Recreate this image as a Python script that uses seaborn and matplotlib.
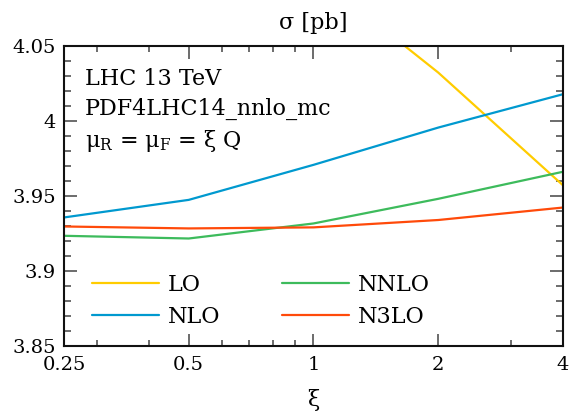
import numpy as np
import pandas as pd
import matplotlib
matplotlib.use("Agg")
import matplotlib.pyplot as plt
import matplotlib.ticker as mticker
import seaborn as sns

# ------------------------------------------------------------
# Data
# ------------------------------------------------------------
xi = [0.25, 0.5, 1, 2, 4]
lo = [4.250, 4.170, 4.098, 4.032, 3.957]
nlo = [3.9356, 3.9473, 3.9706, 3.9954, 4.0176]
nnlo = [3.9234, 3.9216, 3.9316, 3.9480, 3.9660]
n3lo = [3.9296, 3.9283, 3.9290, 3.9339, 3.9422]

orders = ["LO", "NLO", "NNLO", "N3LO"]
colors = {"LO": "#FFCC00", "NLO": "#0099CF", "NNLO": "#3DBB5C", "N3LO": "#FF4A0A"}

x_major = [0.25, 0.5, 1, 2, 4]
x_minor = [0.3, 0.4, 0.6, 0.7, 0.8, 0.9, 3]

df = pd.DataFrame({
    "xi": xi * 4,
    "sigma": lo + nlo + nnlo + n3lo,
    "order": [o for o in orders for _ in xi],
})

# ------------------------------------------------------------
# Style
# ------------------------------------------------------------
sns.set_style("ticks")
plt.rcParams["font.family"] = ["DejaVu Serif"]
plt.rcParams["mathtext.fontset"] = "dejavuserif"
plt.rcParams["text.color"] = "black"
plt.rcParams["axes.labelcolor"] = "black"

fig, ax = plt.subplots(figsize=(5.84, 4.16), dpi=100)
fig.subplots_adjust(left=0.1096, right=0.964, bottom=0.168, top=0.8906)

sns.lineplot(
    data=df, x="xi", y="sigma", hue="order", hue_order=orders,
    palette=colors, linewidth=1.6, estimator=None, sort=False, ax=ax,
)

ax.set_xscale("log")
ax.set_xlim(0.25, 4)
ax.set_ylim(3.85, 4.05)

ax.xaxis.set_major_locator(mticker.FixedLocator(x_major))
ax.xaxis.set_minor_locator(mticker.FixedLocator(x_minor))
ax.xaxis.set_major_formatter(mticker.FuncFormatter(lambda v, p: f"{v:g}"))
ax.xaxis.set_minor_formatter(mticker.NullFormatter())
ax.yaxis.set_major_locator(mticker.MultipleLocator(0.05))
ax.yaxis.set_minor_locator(mticker.MultipleLocator(0.01))
ax.yaxis.set_major_formatter(mticker.FuncFormatter(lambda v, p: f"{v:g}"))

ax.tick_params(which="both", direction="in", top=True, right=True,
               color="#444444", labelcolor="black", labelsize=14)
ax.tick_params(axis="y", which="major", length=9.5, width=1.1, pad=6)
ax.tick_params(axis="y", which="minor", length=5, width=1.1)
ax.tick_params(axis="x", which="major", length=9, width=1.1, pad=7)
ax.tick_params(axis="x", which="minor", length=4.5, width=1.1)

for spine in ax.spines.values():
    spine.set_linewidth(1.5)
    spine.set_color("#111111")

ax.set_title("σ [pb]", fontsize=16, pad=12)
ax.set_xlabel("ξ", fontsize=16, labelpad=11)
ax.set_ylabel("")

# Annotation
ax.text(0.042, 0.868, "LHC 13 TeV", transform=ax.transAxes, fontsize=16)
ax.text(0.042, 0.768, "PDF4LHC14_nnlo_mc", transform=ax.transAxes, fontsize=16)
ax.text(0.042, 0.663, r"μ$_\mathregular{R}$ = μ$_\mathregular{F}$ = ξ Q",
        transform=ax.transAxes, fontsize=16)

sns.move_legend(
    ax, "lower left", bbox_to_anchor=(0.056, 0.06), ncol=2, title=None,
    frameon=False, fontsize=16, handlelength=3.0, handletextpad=0.4,
    columnspacing=2.8, labelspacing=0.45, borderpad=0, borderaxespad=0,
)

plt.savefig("out.png", dpi=100)
